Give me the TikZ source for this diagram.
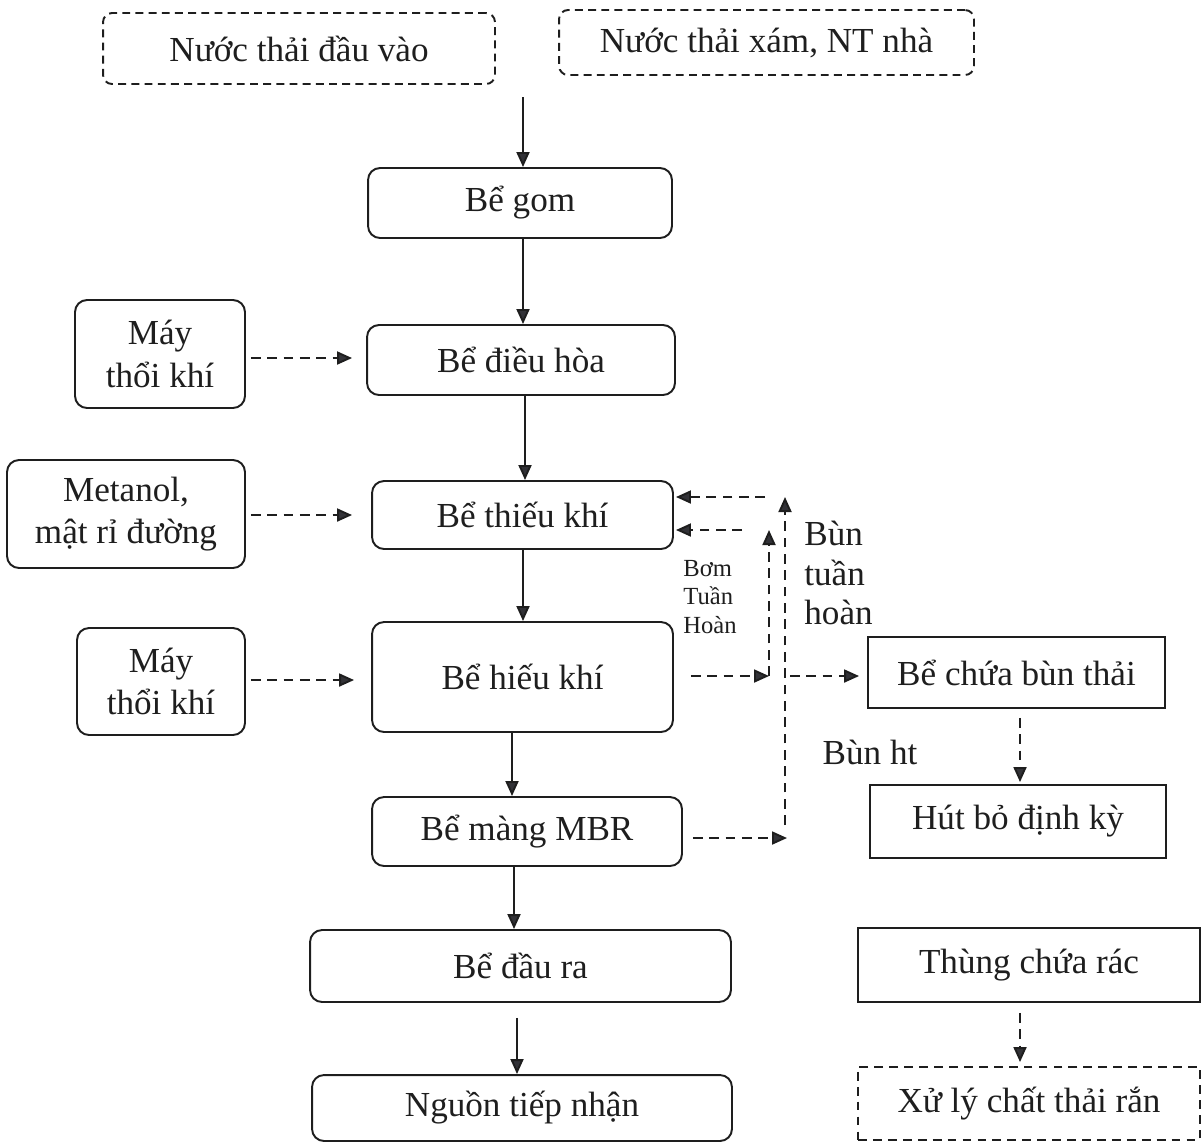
\documentclass[tikz,border=0pt]{standalone}
\usepackage{fontspec}
\setmainfont{Liberation Serif}
\usetikzlibrary{arrows.meta}
\definecolor{ink}{RGB}{30,30,30}
\definecolor{tipc}{RGB}{50,50,55}
\tikzset{
  box/.style={draw=ink, line width=1.1pt, inner sep=0pt, align=center,
    font=\fontsize{20}{24}\selectfont, text=ink},
  rbox/.style={box, rounded corners=0.24cm},
  dbox/.style={box, rounded corners=0.18cm, dash pattern=on 4.5pt off 3pt},
  sbox/.style={box},
  sdbox/.style={box, dash pattern=on 5pt off 3.5pt},
  arr/.style={draw=ink, line width=1.1pt, -{Triangle[length=0.3cm,width=0.26cm,fill=tipc]}},
  darr/.style={arr, dash pattern=on 5.5pt off 3.8pt},
  lbl/.style={font=\fontsize{20}{22.7}\selectfont, text=ink, inner sep=0pt},
  slbl/.style={font=\fontsize{14}{16.2}\selectfont, text=ink, inner sep=0pt},
}
\begin{document}
\begin{tikzpicture}[x=0.02cm, y=-0.02cm]
\useasboundingbox (0,0) rectangle (1202,1144);
% input boxes
\node[dbox, minimum width=7.84cm, minimum height=1.42cm] (in1) at (299,48.5) {Nước thải đầu vào};
\node[dbox, minimum width=8.30cm, minimum height=1.30cm] (in2) at (766.5,42.5) {Nước thải xám, NT nhà};
% main column
\node[rbox, minimum width=6.08cm, minimum height=1.40cm] (gom) at (520,203) {Bể gom};
\node[rbox, minimum width=6.16cm, minimum height=1.40cm] (dieuhoa) at (521,360) {Bể điều hòa};
\node[rbox, minimum width=6.02cm, minimum height=1.36cm] (thieu) at (522.5,515) {Bể thiếu khí};
\node[rbox, minimum width=6.02cm, minimum height=2.20cm] (hieu) at (522.5,677) {Bể hiếu khí};
\node[rbox, minimum width=6.20cm, minimum height=1.38cm] (mbr) at (527,831.5) {Bể màng MBR};
\node[rbox, minimum width=8.42cm, minimum height=1.44cm] (daura) at (520.5,966) {Bể đầu ra};
\node[rbox, minimum width=8.40cm, minimum height=1.32cm] (nguon) at (522,1108) {Nguồn tiếp nhận};
% left inputs
\node[rbox, minimum width=3.40cm, minimum height=2.16cm] (may1) at (160,354) {Máy\\thổi khí};
\node[rbox, minimum width=4.76cm, minimum height=2.16cm] (metanol) at (126,514) {Metanol,\\mật rỉ đường};
\node[rbox, minimum width=3.36cm, minimum height=2.14cm] (may2) at (161,681.5) {Máy\\thổi khí};
% right side
\node[sbox, minimum width=5.94cm, minimum height=1.42cm] (chua) at (1016.5,672.5) {Bể chứa bùn thải};
\node[sbox, minimum width=5.92cm, minimum height=1.46cm] (hut) at (1018,821.5) {Hút bỏ định kỳ};
\node[sbox, minimum width=6.84cm, minimum height=1.48cm] (thung) at (1029,965) {Thùng chứa rác};
\node[sdbox, minimum width=6.84cm, minimum height=1.46cm] (xuly) at (1029,1103.5) {Xử lý chất thải rắn};
% labels
\node[slbl, align=left, anchor=west] (bom) at (683,597) {Bơm\\Tuần\\Hoàn};
\node[lbl, align=left, anchor=west] (buntuan) at (804,573) {Bùn\\tuần\\hoàn};
\node[lbl] (bunht) at (870,752) {Bùn ht};
% helper coordinates
\coordinate (s0) at (523,97);
\coordinate (x523) at (523,0);
\coordinate (x525) at (525,0);
\coordinate (x512) at (512,0);
\coordinate (x514) at (514,0);
\coordinate (x517) at (517,0);
\coordinate (x1020) at (1020,0);
\coordinate (y358) at (0,358);
\coordinate (y680) at (0,680);
\coordinate (b1) at (769,676);
\coordinate (b1t) at (769,530);
\coordinate (l2) at (742,530);
\coordinate (r0) at (785,825);
\coordinate (r1) at (785,497);
\coordinate (l1) at (765,497);
\coordinate (m1) at (787,838);
\coordinate (c0) at (790,676);
% solid main flow
\draw[arr] (s0) -- (gom.north -| s0);
\draw[arr] (gom.south -| x523) -- (dieuhoa.north -| x523);
\draw[arr] (dieuhoa.south -| x525) -- (thieu.north -| x525);
\draw[arr] (thieu.south -| x523) -- (hieu.north -| x523);
\draw[arr] (hieu.south -| x512) -- (mbr.north -| x512);
\draw[arr] (mbr.south -| x514) -- (daura.north -| x514);
\draw[arr, shorten <=0.3cm] (daura.south -| x517) -- (nguon.north -| x517);
% dashed feeds
\draw[darr, shorten <=0.1cm, shorten >=0.28cm] (may1.east |- y358) -- (dieuhoa.west |- y358);
\draw[darr, shorten <=0.1cm, shorten >=0.38cm] (metanol.east |- thieu.west) -- (thieu.west);
\draw[darr, shorten <=0.1cm, shorten >=0.34cm] (may2.east |- y680) -- (hieu.west |- y680);
% recirculation
\draw[darr, shorten <=0.34cm] (hieu.east |- b1) -- (b1);
\draw[darr] (b1) -- (b1t);
\draw[darr, shorten >=0.04cm] (l2) -- (thieu.east |- l2);
\draw[darr] (r0) -- (r1);
\draw[darr, shorten >=0.04cm] (l1) -- (thieu.east |- l1);
\draw[darr, shorten <=0.2cm] (mbr.east |- m1) -- (m1);
\draw[darr, shorten >=0.16cm] (c0) -- (chua.west |- c0);
\draw[darr, shorten <=0.18cm, shorten >=0.04cm] (chua.south -| x1020) -- (hut.north -| x1020);
\draw[darr, shorten <=0.2cm, shorten >=0.08cm] (thung.south -| x1020) -- (xuly.north -| x1020);
\end{tikzpicture}
\end{document}
